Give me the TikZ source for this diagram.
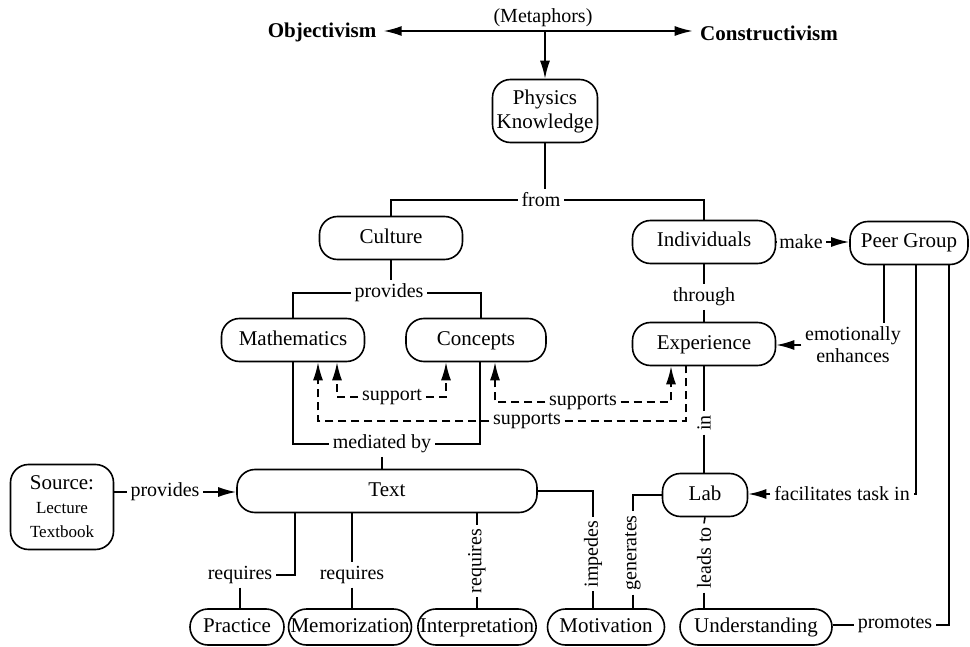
\documentclass[tikz,border=0pt]{standalone}
\usepackage{fontspec}
\setmainfont{Liberation Serif}
\usetikzlibrary{arrows.meta}
\tikzset{pkbox/.style={draw,rounded corners=9pt,minimum height=21.5pt,inner sep=1pt,
    line width=0.8pt,font=\fontsize{10.5}{12}\selectfont},
  pkword/.style={pkbox,text height=7.5pt,text depth=2.5pt},
  pklabel/.style={inner sep=1.5pt,font=\fontsize{10}{11}\selectfont},
  pkrot/.style={pklabel,rotate=90},
  pkdash/.style={dash pattern=on 4pt off 2.5pt}}

\begin{document}
\begin{tikzpicture}[x=0.5pt,y=-0.5pt,line width=0.8pt,>={Latex[length=9pt,width=5pt]}]
  \useasboundingbox (0,0) rectangle (970,647);

  \coordinate (meta) at (545,31);
  \node[pklabel] (metalab) at (543,18) {(Metaphors)};
  \node[font=\fontsize{10.5}{12}\selectfont\bfseries] (obj)  at (322,32) {Objectivism};
  \node[font=\fontsize{10.5}{12}\selectfont\bfseries] (cons) at (769,33) {Constructivism};
  \node[pkbox,minimum width=52.5pt,minimum height=31.5pt,align=center] (phys) at (545,111) {Physics\\Knowledge};

  \draw [->] (meta) -- (meta -| obj.east);
  \draw [->] (meta) -- (meta -| cons.west);
  \draw [->] (meta) -- (phys.north);

  \node[pklabel] (from) at (541,200) {from};
  \node[pkword,minimum width=71.5pt] (cult)  at (391,238) {Culture};
  \node[pkword,minimum width=71.5pt] (indiv) at (704,242) {Individuals};
  \node[pkword,minimum width=59pt]   (peer)  at (909,243) {Peer Group};
  \node[pklabel] (make) at (801,242) {make};

  \draw (phys.south) -- (phys.south |- from.north);
  \draw (from.west) -| (cult.north);
  \draw (from.east) -| (indiv.north);
  \draw (indiv.east) -- (make.west);
  \draw [->] (make.east) -- (make.east -| peer.west);

  \node[pklabel] (prov) at (389,293) {provides};
  \node[pklabel] (thr)  at (704,297) {through};
  \node[pkword,minimum width=71.5pt] (math) at (293,340) {Mathematics};
  \node[pkword,minimum width=70pt]   (conc) at (476,340) {Concepts};
  \node[pkword,minimum width=71.5pt] (exp)  at (704,344) {Experience};
  \node[pklabel,align=center] (emo) at (853,345) {emotionally\\enhances};

  \draw (cult.south) -- (cult.south |- prov.north);
  \draw (prov.west) -| (math.north);
  \draw (prov.east) -| ([xshift=2.5pt]conc.north);
  \draw (indiv.south) -- (thr.north);
  \draw (thr.south) -- (exp.north);
  \draw ([xshift=-12.5pt]peer.south) -- ([xshift=-12.5pt]peer.south |- emo.north);
  \draw [->] (emo.west) -- (emo.west -| exp.east);

  \node[pklabel] (sup)   at (392,397) {support};
  \node[pklabel] (sups1) at (583,402) {supports};
  \node[pklabel] (sups2) at (527,421) {supports};
  \draw [pkdash,->] (sup.west) -| ([xshift=22pt]math.south);
  \draw [pkdash,->] (sup.east) -| ([xshift=-15pt]conc.south);
  \draw [pkdash,->] (sups1.west) -| ([xshift=9.5pt]conc.south);
  \draw [pkdash,->] (sups1.east) -| ([xshift=-16.5pt]exp.south);
  \draw [pkdash,->] (sups2.west) -| ([xshift=12.5pt]math.south);
  \draw [pkdash]    (sups2.east) -| ([xshift=-9pt]exp.south);

  \node[pklabel] (med) at (382,444) {mediated by};
  \node[pkrot]   (inlab) at (704,423) {in};
  \node[pkword,minimum width=150pt] (text) at (387,491) {Text};
  \node[pkbox,minimum width=51.5pt,minimum height=42.5pt,align=center] (src) at (62,507)
    {Source:\\{\fontsize{8.5}{9.5}\selectfont Lecture}\\{\fontsize{8.5}{9.5}\selectfont Textbook}};
  \node[pklabel] (prov2) at (165,492) {provides};
  \node[pkword,minimum width=42.5pt] (lab) at (705,495) {Lab};
  \node[pklabel] (fac) at (842,494) {facilitates task in};

  \draw (math.south) |- (med.west);
  \draw ([xshift=2pt]conc.south) |- (med.east);
  \draw (med.south) -- (med.south |- text.north);
  \draw (src.east |- prov2) -- (prov2.west);
  \draw [->] (prov2.east) -- (prov2.east -| text.west);
  \draw (exp.south) -- (inlab.east);
  \draw (inlab.west) -- (inlab.west |- lab.north);
  \draw ([xshift=3.5pt]peer.south) |- (fac.east);
  \draw [->] (fac.west) -- (fac.west -| lab.east);

  \node[pklabel] (req1) at (240,575) {requires};
  \node[pklabel] (req2) at (352,575) {requires};
  \node[pkrot]   (req3) at (477,561) {requires};
  \node[pkrot]   (imp)  at (593,554) {impedes};
  \node[pkrot]   (gen)  at (633,553) {generates};
  \node[pkrot]   (lead) at (704,558) {leads to};
  \node[pklabel] (prom) at (895,625) {promotes};

  \node[pkword,minimum width=47pt,minimum height=18pt]   (prac)   at (237,627) {Practice};
  \node[pkword,minimum width=61pt,minimum height=18pt]   (memo)   at (350,627) {Memorization};
  \node[pkword,minimum width=59pt,minimum height=18pt]   (interp) at (477,627) {Interpretation};
  \node[pkword,minimum width=58.5pt,minimum height=18pt] (motiv)  at (606,627) {Motivation};
  \node[pkword,minimum width=76pt,minimum height=18pt]   (under)  at (756,627) {Understanding};

  \draw ([xshift=-46pt]text.south) |- (req1.east);
  \draw (req1.south) -- (req1.south |- prac.north);
  \draw (req2 |- text.south) -- (req2.north);
  \draw (req2.south) -- (req2.south |- memo.north);
  \draw (req3 |- text.south) -- (req3.east);
  \draw (req3.west) -- (req3.west |- interp.north);
  \draw (text.east) -| (imp.east);
  \draw (imp.west) -- (imp.west |- motiv.north);
  \draw (lab.west) -| (gen.east);
  \draw (gen.west) -- (gen.west |- motiv.north);
  \draw (lab.south) -- (lead.east);
  \draw (lead.west) -- (lead.west |- under.north);
  \draw ([xshift=20pt]peer.south) |- (prom.east);
  \draw (prom.west) -- (prom.west -| under.east);
\end{tikzpicture}
\end{document}
